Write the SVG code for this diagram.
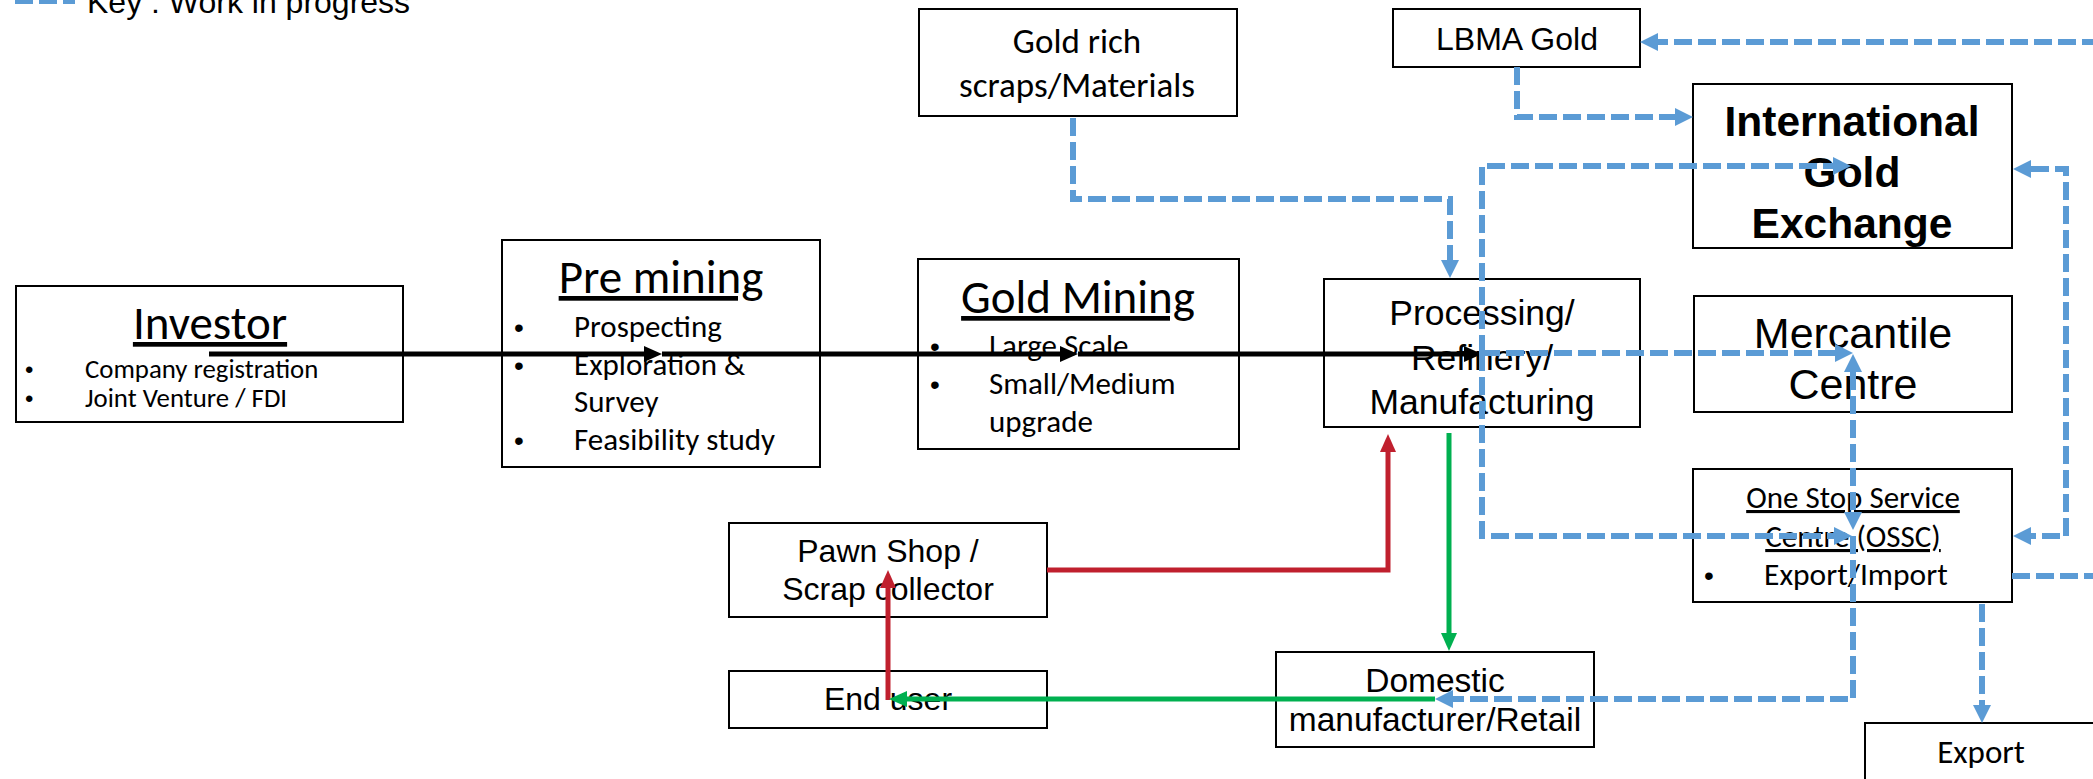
<svg xmlns="http://www.w3.org/2000/svg" width="2093" height="779" viewBox="0 0 2093 779">
<style>
.box{fill:#fff;stroke:#000;stroke-width:2}
.cal{font-family:Carlito,Calibri,Lato,"Liberation Sans",sans-serif;fill:#000}
.ari{font-family:"Liberation Sans",Arial,sans-serif;fill:#000}
.mid{text-anchor:middle}
.u{text-decoration:underline}
.blk{fill:none;stroke:#000;stroke-width:5}
.red{fill:none;stroke:#C0202E;stroke-width:5}
.grn{fill:none;stroke:#00B050;stroke-width:5}
.blu{fill:none;stroke:#5B9BD5;stroke-width:6;stroke-dasharray:18 6}
</style>
<defs>
<marker id="ab" markerUnits="userSpaceOnUse" markerWidth="18" markerHeight="16" refX="0" refY="8" orient="auto"><path d="M0,0 L18,8 L0,16 z" fill="#000"/></marker>
<marker id="ar" markerUnits="userSpaceOnUse" markerWidth="18" markerHeight="16" refX="0" refY="8" orient="auto"><path d="M0,0 L18,8 L0,16 z" fill="#C0202E"/></marker>
<marker id="ag" markerUnits="userSpaceOnUse" markerWidth="18" markerHeight="16" refX="0" refY="8" orient="auto"><path d="M0,0 L18,8 L0,16 z" fill="#00B050"/></marker>
<marker id="au" markerUnits="userSpaceOnUse" markerWidth="18" markerHeight="18" refX="0" refY="9" orient="auto"><path d="M0,0 L18,9 L0,18 z" fill="#5B9BD5"/></marker>
<marker id="aus" markerUnits="userSpaceOnUse" markerWidth="18" markerHeight="18" refX="0" refY="9" orient="auto-start-reverse"><path d="M0,0 L18,9 L0,18 z" fill="#5B9BD5"/></marker>
</defs>
<rect width="2093" height="779" fill="#fff"/>

<g id="key">
<path class="blu" d="M15,1 H75"/>
<text class="ari" x="87" y="13" font-size="32">Key : Work in progress</text>
</g>

<g id="investor">
<rect class="box" x="16" y="286" width="387" height="136"/>
<text class="cal mid u" x="210" y="339" font-size="47">Investor</text>
<text class="ari" x="25" y="378" font-size="24">•</text>
<text class="cal" x="85" y="378" font-size="26.8">Company registration</text>
<text class="ari" x="25" y="407" font-size="24">•</text>
<text class="cal" x="85" y="407" font-size="26.8">Joint Venture / FDI</text>
</g>

<g id="premining">
<rect class="box" x="502" y="240" width="318" height="227"/>
<text class="cal mid u" x="661" y="293" font-size="47">Pre mining</text>
<text class="ari" x="514" y="337" font-size="28">•</text>
<text class="cal" x="574" y="337" font-size="31">Prospecting</text>
<text class="ari" x="514" y="375" font-size="28">•</text>
<text class="cal" x="574" y="375" font-size="31">Exploration &amp;</text>
<text class="cal" x="574" y="412" font-size="31">Survey</text>
<text class="ari" x="514" y="450" font-size="28">•</text>
<text class="cal" x="574" y="450" font-size="31">Feasibility study</text>
</g>

<g id="goldmining">
<rect class="box" x="918" y="259" width="321" height="190"/>
<text class="cal mid u" x="1078" y="313" font-size="47">Gold Mining</text>
<text class="ari" x="930" y="356" font-size="28">•</text>
<text class="cal" x="989" y="356" font-size="31">Large Scale</text>
<text class="ari" x="930" y="394" font-size="28">•</text>
<text class="cal" x="989" y="394" font-size="31">Small/Medium</text>
<text class="cal" x="989" y="432" font-size="31">upgrade</text>
</g>

<g id="goldrich">
<rect class="box" x="919" y="9" width="318" height="107"/>
<text class="cal mid" x="1077" y="53" font-size="35">Gold rich</text>
<text class="cal mid" x="1077" y="97" font-size="35">scraps/Materials</text>
</g>

<g id="processing">
<rect class="box" x="1324" y="279" width="316" height="148"/>
<text class="ari mid" x="1482" y="325" font-size="35.5">Processing/</text>
<text class="ari mid" x="1482" y="370" font-size="35.5">Refinery/</text>
<text class="ari mid" x="1482" y="414" font-size="35.5">Manufacturing</text>
</g>

<g id="lbma">
<rect class="box" x="1393" y="9" width="247" height="58"/>
<text class="ari mid" x="1517" y="50" font-size="32">LBMA Gold</text>
</g>

<g id="ige">
<rect class="box" x="1693" y="84" width="319" height="164"/>
<text class="ari mid" x="1852" y="136" font-size="42.5" font-weight="bold">International</text>
<text class="ari mid" x="1852" y="187" font-size="42.5" font-weight="bold">Gold</text>
<text class="ari mid" x="1852" y="238" font-size="42.5" font-weight="bold">Exchange</text>
</g>

<g id="mercantile">
<rect class="box" x="1694" y="296" width="318" height="116"/>
<text class="ari mid" x="1853" y="348" font-size="43">Mercantile</text>
<text class="ari mid" x="1853" y="399" font-size="43">Centre</text>
</g>

<g id="ossc">
<rect class="box" x="1693" y="469" width="319" height="133"/>
<text class="cal mid u" x="1853" y="508" font-size="31">One Stop Service</text>
<text class="cal mid u" x="1853" y="547" font-size="31">Centre (OSSC)</text>
<text class="ari" x="1704" y="585" font-size="28">•</text>
<text class="cal" x="1764" y="585" font-size="31.5">Export/Import</text>
</g>

<g id="domestic">
<rect class="box" x="1276" y="652" width="318" height="95"/>
<text class="ari mid" x="1435" y="692" font-size="33.5">Domestic</text>
<text class="ari mid" x="1435" y="731" font-size="33.5">manufacturer/Retail</text>
</g>

<g id="pawn">
<rect class="box" x="729" y="523" width="318" height="94"/>
<text class="ari mid" x="888" y="562" font-size="32">Pawn Shop /</text>
<text class="ari mid" x="888" y="600" font-size="32">Scrap collector</text>
</g>

<g id="enduser">
<rect class="box" x="729" y="671" width="318" height="57"/>
<text class="ari mid" x="888" y="710" font-size="32">End user</text>
</g>

<g id="export">
<rect class="box" x="1865" y="723" width="235" height="70"/>
<text class="cal mid" x="1981" y="763" font-size="33">Export</text>
</g>

<g id="connectors">
<path class="blk" d="M209,354 H644" marker-end="url(#ab)"/>
<path class="blk" d="M662,354 H1060" marker-end="url(#ab)"/>
<path class="blk" d="M1078,354 H1464" marker-end="url(#ab)"/>

<path class="red" d="M1047,570 H1388 V452" marker-end="url(#ar)"/>
<path class="red" d="M888,700 V588" marker-end="url(#ar)"/>

<path class="grn" d="M1449,433 V633" marker-end="url(#ag)"/>
<path class="grn" d="M1435,699 H907" marker-end="url(#ag)"/>

<path class="blu" d="M1073,118 V199 H1450 V260" marker-end="url(#au)"/>
<path class="blu" d="M1517,67 V117 H1675" marker-end="url(#au)"/>
<path class="blu" d="M2100,42 H1658" marker-end="url(#au)"/>
<path class="blu" d="M1482,353 V166 H1833" marker-end="url(#au)"/>
<path class="blu" d="M1482,353 H1835" marker-end="url(#au)"/>
<path class="blu" d="M1482,353 V536 H1834" marker-end="url(#au)"/>
<path class="blu" d="M1853,372 V512" marker-start="url(#aus)" marker-end="url(#aus)"/>
<path class="blu" d="M1853,536 V699 H1453" marker-end="url(#au)"/>
<path class="blu" d="M2031,169 H2066 V536 H2031" marker-start="url(#aus)" marker-end="url(#aus)"/>
<path class="blu" d="M2012,576 H2100"/>
<path class="blu" d="M1982,604 V705" marker-end="url(#au)"/>
</g>
</svg>
